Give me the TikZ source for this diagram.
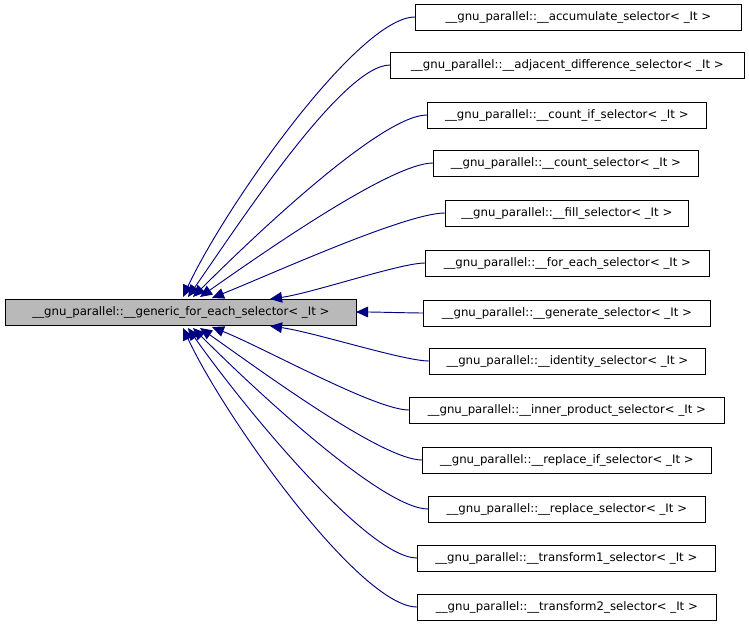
\documentclass[tikz,border=0pt]{standalone}
\usepackage{fontspec}
\setmainfont{DejaVu Sans}
\usetikzlibrary{arrows.meta,positioning}
\colorlet{mynavy}{blue!50!black}
\tikzset{
	cls/.style={
		rectangle, draw, semithick, fill=white,
		font=\fontsize{8.8}{10}\selectfont,
		minimum height=19.5pt, inner sep=1pt,
	},
	line/.style={
		draw=mynavy, {Triangle[length=9pt,width=8pt]}-, line width=0.7pt, fill=none,
	}
}
\begin{document}
\begin{tikzpicture}[x=0.75pt, y=0.75pt]
	\useasboundingbox (0,0) rectangle (749,-627);
	% Base class
	\node [cls, fill=gray!55, minimum width=351*0.75pt, anchor=west] (base) at (5,-312)
		{\_\_gnu\_parallel::\_\_generic\_for\_each\_selector< \_It >};
	% Derived classes
	\foreach \i/\py/\xa/\xb/\tx/\ty/\ang/\txt in {
		1/17/415/741/183/297/65/accumulate\_selector,
		2/65/390/744/188/297/55/adjacent\_difference\_selector,
		3/115/427/706/193/297/45/count\_if\_selector,
		4/163/433/698/200/297/35/count\_selector,
		5/213/445/688/212/298/22/fill\_selector,
		6/263/425/709/270/299/8/for\_each\_selector,
		7/313/423/710/356/312/0/generate\_selector,
		8/361/429/705/270/326/-8/identity\_selector,
		9/410/409/724/212/327/-22/inner\_product\_selector,
		10/460/422/711/200/328/-35/replace\_if\_selector,
		11/509/428/705/193/328/-45/replace\_selector,
		12/558/417/715/188/328/-55/transform1\_selector,
		13/607/417/716/183/328/-65/transform2\_selector}
	{
		\node [cls, minimum width={(\xb-\xa)*0.75pt}, anchor=west] (d\i) at (\xa,-\py)
			{\_\_gnu\_parallel::\_\_\txt< \_It >};
		\coordinate (t\i) at (\tx,-\ty);
		\draw [line] (t\i) to[out=\ang, in=180, out looseness=0.7, in looseness=0.4] (d\i.west);
	}
\end{tikzpicture}
\end{document}
